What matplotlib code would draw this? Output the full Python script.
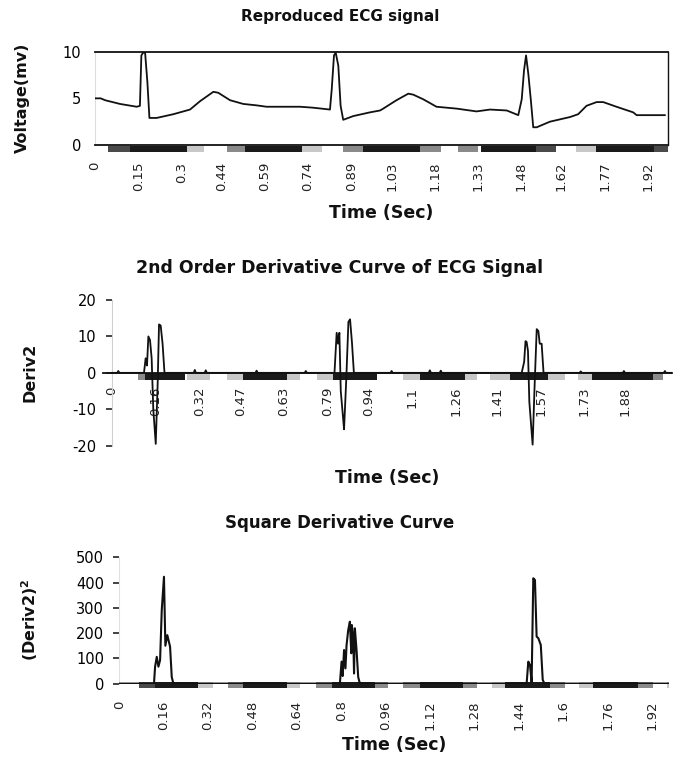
import matplotlib
matplotlib.use("Agg")
import matplotlib.pyplot as plt

plt.rcParams['font.family'] = ['DejaVu Sans']

# ---------------- data ----------------
# Panel 1: reproduced ECG signal (time s, voltage mV)
ecg_t = [0.00, 0.02, 0.035, 0.087, 0.145, 0.156, 0.161, 0.167, 0.174, 0.182, 0.189,
         0.214, 0.272, 0.330, 0.365, 0.411, 0.428, 0.469, 0.515, 0.561, 0.596, 0.712,
         0.757, 0.816, 0.822, 0.830, 0.836, 0.845, 0.853, 0.862, 0.897, 0.955, 0.990,
         1.001, 1.047, 1.088, 1.105, 1.140, 1.186, 1.256, 1.325, 1.372, 1.430, 1.470,
         1.482, 1.490, 1.497, 1.505, 1.514, 1.522, 1.534, 1.580, 1.650, 1.678, 1.707,
         1.742, 1.765, 1.811, 1.869, 1.881, 1.979]
ecg_v = [5.0, 5.0, 4.8, 4.4, 4.1, 4.2, 9.6, 9.9, 9.9, 6.7, 2.9,
         2.9, 3.3, 3.8, 4.7, 5.7, 5.6, 4.8, 4.4, 4.25, 4.1, 4.1,
         4.0, 3.8, 5.9, 9.6, 9.9, 8.5, 4.2, 2.7, 3.1, 3.5, 3.7,
         3.9, 4.8, 5.5, 5.4, 4.9, 4.1, 3.9, 3.6, 3.8, 3.7, 3.2,
         4.9, 8.0, 9.6, 7.6, 4.7, 1.9, 1.9, 2.5, 3.0, 3.3, 4.2,
         4.6, 4.6, 4.1, 3.5, 3.2, 3.2]
ecg_ticklabels = ['0', '0.15', '0.3', '0.44', '0.59', '0.74', '0.89', '1.03',
                  '1.18', '1.33', '1.48', '1.62', '1.77', '1.92']

# Panel 2: second-order derivative
d2_t = [0.000, 0.020, 0.024, 0.028, 0.118, 0.124, 0.129, 0.134, 0.140, 0.146, 0.152,
        0.161, 0.168, 0.173, 0.179, 0.186, 0.193, 0.300, 0.304, 0.308, 0.340, 0.344,
        0.348, 0.526, 0.530, 0.534, 0.706, 0.710, 0.714, 0.815, 0.823, 0.828, 0.833,
        0.838, 0.846, 0.850, 0.858, 0.866, 0.872, 0.879, 0.886, 1.020, 1.024, 1.028,
        1.160, 1.164, 1.168, 1.200, 1.204, 1.208, 1.500, 1.509, 1.514, 1.518, 1.523,
        1.528, 1.540, 1.548, 1.555, 1.561, 1.566, 1.573, 1.580, 1.712, 1.716, 1.720,
        1.870, 1.874, 1.878, 2.020, 2.024, 2.028, 2.050]
d2_v = [0.0, 0.0, 0.5, 0.0, 0.0, 4.0, 2.0, 10.0, 9.0, 4.0, -10.0,
        -19.5, -3.0, 13.3, 13.0, 8.0, 0.0, 0.0, 0.8, 0.0, 0.0, 0.7,
        0.0, 0.0, 0.6, 0.0, 0.0, 0.5, 0.0, 0.0, 11.0, 8.0, 11.0,
        -5.0, -12.0, -15.5, -2.0, 14.0, 14.7, 8.3, 0.0, 0.0, 0.5, 0.0,
        0.0, 0.7, 0.0, 0.0, 0.6, 0.0, 0.0, 3.0, 8.7, 8.5, 6.0,
        -8.0, -19.7, -2.0, 12.0, 11.5, 8.0, 8.0, 0.0, 0.0, 0.4, 0.0,
        0.0, 0.5, 0.0, 0.0, 0.5, 0.0, 0.0]
d2_ticklabels = ['0', '0.16', '0.32', '0.47', '0.63', '0.79', '0.94', '1.1',
                 '1.26', '1.41', '1.57', '1.73', '1.88']

# Panel 3: squared derivative
sq_t = [0.000, 0.125, 0.129, 0.135, 0.141, 0.147, 0.153, 0.161, 0.166, 0.173, 0.183,
        0.189, 0.195, 0.795, 0.801, 0.805, 0.810, 0.815, 0.819, 0.825, 0.831, 0.836,
        0.838, 0.843, 0.846, 0.849, 0.855, 0.861, 0.867, 1.468, 1.474, 1.480, 1.486,
        1.492, 1.498, 1.504, 1.510, 1.519, 1.526, 1.532, 1.980]
sq_v = [0, 0, 67, 106, 67, 93, 291, 423, 150, 192, 146,
        26, 0, 0, 87, 30, 133, 60, 152, 212, 245, 120,
        232, 186, 40, 219, 133, 26, 0, 0, 87, 74, 5,
        417, 410, 186, 180, 153, 15, 0, 0]
sq_ticklabels = ['0', '0.16', '0.32', '0.48', '0.64', '0.8', '0.96', '1.12',
                 '1.28', '1.44', '1.6', '1.76', '1.92']

# shaded axis-band segments (start, end, shade)
band1 = [(0.045, 0.12, 'dk'), (0.12, 0.32, 'bk'), (0.32, 0.38, 'lt'), (0.46, 0.52, 'md'),
         (0.52, 0.72, 'bk'), (0.72, 0.79, 'lt'), (0.86, 0.93, 'md'), (0.93, 1.13, 'bk'),
         (1.13, 1.20, 'md'), (1.26, 1.33, 'md'), (1.34, 1.53, 'bk'), (1.53, 1.60, 'dk'),
         (1.67, 1.74, 'lt'), (1.74, 1.94, 'bk'), (1.94, 1.99, 'dk')]
band2 = [(0.096, 0.122, 'md'), (0.122, 0.268, 'bk'), (0.276, 0.36, 'lt'), (0.42, 0.48, 'lt'),
         (0.48, 0.64, 'bk'), (0.64, 0.69, 'lt'), (0.75, 0.81, 'lt'), (0.81, 0.97, 'bk'),
         (1.066, 1.128, 'lt'), (1.128, 1.293, 'bk'), (1.293, 1.337, 'lt'),
         (1.384, 1.457, 'lt'), (1.457, 1.596, 'bk'), (1.596, 1.658, 'lt'),
         (1.706, 1.757, 'lt'), (1.757, 1.98, 'bk'), (1.98, 2.017, 'md')]
band3 = [(0.072, 0.129, 'dk'), (0.129, 0.285, 'bk'), (0.285, 0.339, 'lt'), (0.391, 0.447, 'md'),
         (0.447, 0.603, 'bk'), (0.603, 0.651, 'lt'), (0.709, 0.765, 'md'), (0.765, 0.921, 'bk'),
         (0.921, 0.969, 'md'), (1.021, 1.084, 'md'), (1.084, 1.240, 'bk'), (1.240, 1.288, 'md'),
         (1.342, 1.390, 'lt'), (1.390, 1.552, 'bk'), (1.552, 1.606, 'md'), (1.658, 1.706, 'lt'),
         (1.706, 1.870, 'bk'), (1.870, 1.924, 'md'), (1.974, 1.980, 'lt')]
shades = {'bk': '#1a1a1a', 'dk': '#4a4a4a', 'md': '#8a8a8a', 'lt': '#c8c8c8'}

W, H = 680, 763
fig = plt.figure(figsize=(W / 100, H / 100), dpi=100)

def frac_box(x0, y0, x1, y1):
    return [x0 / W, 1 - y1 / H, (x1 - x0) / W, (y1 - y0) / H]

def draw_band(ax, segs, y0, h, transform):
    ax.broken_barh([(a, b - a) for a, b, _ in segs], (y0, h),
                   facecolors=[shades[s] for _, _, s in segs],
                   transform=transform, clip_on=False, zorder=1)

tick_font = dict(fontsize=9.5, color='#222222')
label_kw = dict(fontsize=12.5, fontweight='bold', color='#111111')
ylabel_kw = dict(fontsize=11.5, fontweight='bold', color='#111111')
title_kw = dict(fontweight='bold', color='#111111', ha='center', va='center')

# ---------------- panel 1 ----------------
ax1 = fig.add_axes(frac_box(95, 51.7, 668, 145))
ax1.plot(ecg_t, ecg_v, color='#111111', lw=1.3, zorder=3)
ax1.set_xlim(0, 1.99)
ax1.set_ylim(0, 10)
ax1.spines['top'].set_color('#111111'); ax1.spines['top'].set_linewidth(1.3)
ax1.spines['right'].set_color('#111111'); ax1.spines['right'].set_linewidth(1.0)
ax1.spines['left'].set_color('#dddddd')
ax1.spines['bottom'].set_color('#111111'); ax1.spines['bottom'].set_linewidth(1.3)
ax1.set_yticks([0, 5, 10])
ax1.set_yticklabels(['0', '5', '10'], fontsize=10.5)
ax1.tick_params(axis='y', length=0, pad=10)
ax1.set_xticks([float(s) for s in ecg_ticklabels])
ax1.set_xticklabels(ecg_ticklabels, rotation=90, **tick_font)
ax1.tick_params(axis='x', length=0, pad=12)
draw_band(ax1, band1, -0.08, 0.07, ax1.get_xaxis_transform())
fig.text(0.5, 1 - 16 / H, 'Reproduced ECG signal', fontsize=11, **title_kw)
fig.text(22 / W, 1 - 98 / H, 'Voltage(mv)', rotation=90, ha='center', va='center', **ylabel_kw)
fig.text((95 + 668) / 2 / W, 1 - 213 / H, 'Time (Sec)', ha='center', va='center', **label_kw)

# ---------------- panel 2 ----------------
ax2 = fig.add_axes(frac_box(103, 300, 672, 445.7))
ax2.plot(d2_t, d2_v, color='#111111', lw=1.3, zorder=3)
ax2.set_xlim(-0.032, 2.05)
ax2.set_ylim(-20, 20)
ax2.spines['top'].set_visible(False)
ax2.spines['right'].set_visible(False)
ax2.spines['left'].set_position(('data', 0))
ax2.spines['left'].set_color('#d0d0d0')
ax2.spines['bottom'].set_position(('data', 0))
ax2.spines['bottom'].set_color('#111111'); ax2.spines['bottom'].set_linewidth(1.3)
ax2.set_yticks([-20, -10, 0, 10, 20])
ax2.set_yticklabels(['-20', '-10', '0', '10', '20'], fontsize=10.5)
ax2.tick_params(axis='y', length=4, width=1.2, color='#222222', pad=7)
ax2.set_xticks([float(s) for s in d2_ticklabels])
ax2.set_xticklabels(d2_ticklabels, rotation=90, **tick_font)
ax2.tick_params(axis='x', length=0, pad=10)
draw_band(ax2, band2, -1.9, 1.9, ax2.transData)
fig.text(0.5, 1 - 268 / H, '2nd Order Derivative Curve of ECG Signal', fontsize=12.5, **title_kw)
fig.text(30 / W, 1 - 372 / H, 'Deriv2', rotation=90, ha='center', va='center', **ylabel_kw)
fig.text((103 + 672) / 2 / W, 1 - 478 / H, 'Time (Sec)', ha='center', va='center', **label_kw)

# ---------------- panel 3 ----------------
ax3 = fig.add_axes(frac_box(119.3, 557.3, 668.7, 683.6))
ax3.plot(sq_t, sq_v, color='#111111', lw=1.5, zorder=3)
ax3.set_xlim(0, 1.98)
ax3.set_ylim(0, 500)
ax3.spines['top'].set_visible(False)
ax3.spines['right'].set_visible(False)
ax3.spines['bottom'].set_visible(False)
ax3.spines['left'].set_color('#e0e0e0')
ax3.set_yticks([0, 100, 200, 300, 400, 500])
ax3.set_yticklabels(['0', '100', '200', '300', '400', '500'], fontsize=10.5)
ax3.tick_params(axis='y', length=4, width=1.2, color='#222222', pad=7)
ax3.set_xticks([float(s) for s in sq_ticklabels])
ax3.set_xticklabels(sq_ticklabels, rotation=90, **tick_font)
ax3.tick_params(axis='x', length=0, pad=12)
draw_band(ax3, band3, -18, 25, ax3.transData)
fig.text(0.5, 1 - 523 / H, 'Square Derivative Curve', fontsize=12, **title_kw)
fig.text(30 / W, 1 - 620 / H, r'(Deriv2)$^\mathbf{2}$', rotation=90, ha='center', va='center', **ylabel_kw)
fig.text((119.3 + 668.7) / 2 / W, 1 - 745 / H, 'Time (Sec)', ha='center', va='center', **label_kw)

fig.savefig('out.png', dpi=100)
